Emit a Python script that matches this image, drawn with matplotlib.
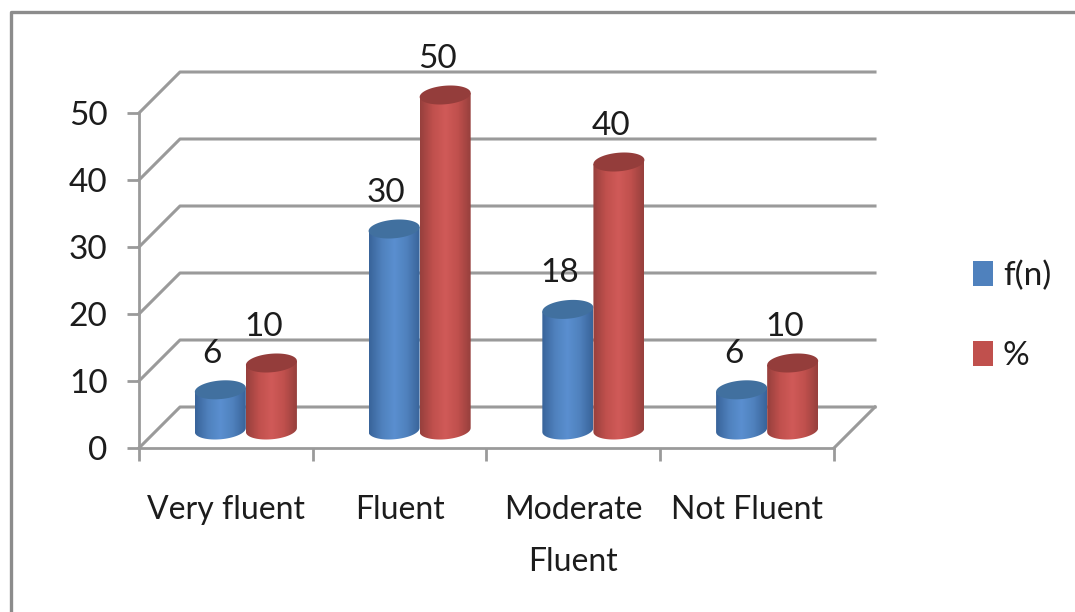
import numpy as np
import matplotlib
matplotlib.use('Agg')
import matplotlib.pyplot as plt
from matplotlib.lines import Line2D
from matplotlib.patches import Patch, Polygon
from matplotlib.colors import LinearSegmentedColormap
from matplotlib.transforms import Affine2D

categories = ['Very fluent', 'Fluent', 'Moderate\nFluent', 'Not Fluent']
fn_values = [6, 30, 18, 6]
pct_values = [10, 50, 40, 10]
series_names = ['f(n)', '%']
y_ticks = [0, 10, 20, 30, 40, 50]

plt.rcParams['font.family'] = ['Lato', 'DejaVu Sans']

W, H = 1075, 612
GRID = '#9a9a9a'
TEXT = '#1c1c1c'
BLUE = ['#39649a', '#4f81bd', '#5a8fd0', '#4f81bd', '#39649a']
RED = ['#97403d', '#c0504d', '#d05a58', '#c0504d', '#97403d']
BLUE_TOP = '#41709f'
RED_TOP = '#943d3b'

fig = plt.figure(figsize=(W / 100, H / 100), dpi=100)
ax = fig.add_axes([139 / W, 1 - 448 / H, (834 - 139) / W, (448 - 113) / H])
ax.set_xlim(0, 4)
ax.set_ylim(0, 50)
ax.patch.set_alpha(0)

# picture frame
fig.add_artist(Line2D([11 / W, 11 / W, 1], [0, 1 - 12 / H, 1 - 12 / H], color='#8c8c8c', lw=2.4))

back = ax.transData + Affine2D().translate(41, 41)
mid = ax.transData + Affine2D().translate(20, 18)

# walls and floor
for v in y_ticks:
    p0 = ax.transData.transform((0, v))
    p1 = back.transform((0, v))
    p2 = back.transform((4, v))
    ax.plot(*zip(p0, p1, p2), transform=None, color=GRID, lw=2.2, clip_on=False, zorder=1)
p3 = ax.transData.transform((4, 0))
p4 = back.transform((4, 0))
ax.plot(*zip(p3, p4), transform=None, color=GRID, lw=2.2, clip_on=False, zorder=1)


def cylinder(x, value, colors, top_color, zorder):
    a = 25.5 / 173.75
    b = 9.3 / 6.7
    tilt = 2.0 / 6.7
    t = np.linspace(0, 2 * np.pi, 80)
    ex = x + a * np.cos(t)
    ey = value + b * np.sin(t) + tilt * np.cos(t)
    t2 = np.linspace(np.pi, 2 * np.pi, 40)
    bx = x + a * np.cos(t2)
    by = b * np.sin(t2) + tilt * np.cos(t2)
    body = Polygon(np.r_[np.c_[bx, by], [[x + a, value + tilt], [x - a, value - tilt]]],
                   closed=True, transform=mid, fc='none', ec='none', clip_on=False)
    ax.add_patch(body)
    cmap = LinearSegmentedColormap.from_list('cyl', colors)
    im = ax.imshow(np.linspace(0, 1, 64)[None, :], cmap=cmap, aspect='auto',
                   extent=(x - a, x + a, -3, value + 3), transform=mid,
                   interpolation='bilinear', zorder=zorder)
    im.set_clip_path(body)
    im.set_clip_box(fig.bbox)
    ax.add_patch(Polygon(np.c_[ex, ey], closed=True, transform=mid, fc=top_color,
                         ec='none', clip_on=False, zorder=zorder + 0.1))


def label(x, value, zorder=6):
    ax.annotate(str(value), (x, value), xycoords=mid, xytext=(-8, 36), textcoords='offset pixels',
                ha='center', va='center', fontsize=24, color=TEXT, zorder=zorder)


for i in range(len(categories)):
    xb = i + 0.5 - 0.147
    xr = i + 0.5 + 0.147
    cylinder(xb, fn_values[i], BLUE, BLUE_TOP, 3)
    cylinder(xr, pct_values[i], RED, RED_TOP, 4)
    label(xb, fn_values[i])
    label(xr, pct_values[i])

ax.set_xlim(0, 4)
ax.set_ylim(0, 50)

for s in ['top', 'right']:
    ax.spines[s].set_visible(False)
for s in ['left', 'bottom']:
    ax.spines[s].set_color(GRID)
    ax.spines[s].set_linewidth(2)
    ax.spines[s].set_zorder(2)

ax.set_yticks(y_ticks)
ax.tick_params(axis='y', length=8.6, width=2, color=GRID, labelsize=24, labelcolor=TEXT, pad=14)
ax.set_xticks(range(5))
ax.set_xticklabels([])
ax.tick_params(axis='x', which='major', length=9.4, width=2, color=GRID)
ax.set_xticks(np.arange(len(categories)) + 0.5, categories, minor=True)
ax.tick_params(axis='x', which='minor', length=0, labelsize=23, labelcolor=TEXT, pad=34)
for t in ax.get_xticklabels(minor=True):
    t.set_linespacing(1.9)

handles = [Patch(fc=BLUE[1], ec='none'), Patch(fc=RED[1], ec='none')]
fig.legend(handles, series_names, loc='center left', bbox_to_anchor=(943 / W, 1 - 316 / H),
           frameon=False, fontsize=24, handlelength=0.6, handleheight=0.75, handletextpad=0.3,
           labelspacing=1.5, labelcolor=TEXT)

fig.savefig('out.png', dpi=100)
